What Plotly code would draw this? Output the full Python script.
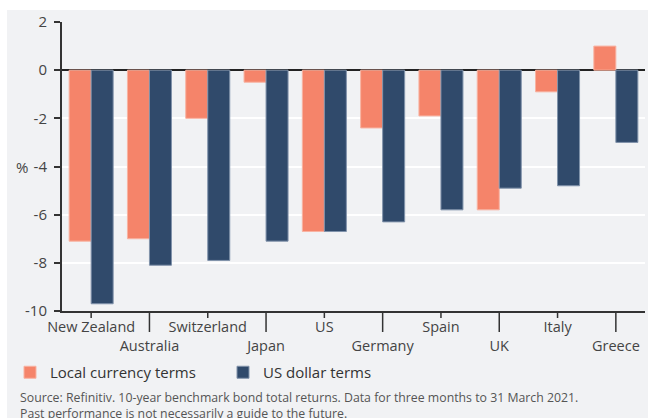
import plotly.graph_objects as go

countries = ["New Zealand", "Australia", "Switzerland", "Japan", "US",
             "Germany", "Spain", "UK", "Italy", "Greece"]
local_ccy = [-7.1, -7.0, -2.0, -0.5, -6.7, -2.4, -1.9, -5.8, -0.9, 1.0]
usd_terms = [-9.7, -8.1, -7.9, -7.1, -6.7, -6.3, -5.8, -4.9, -4.8, -3.0]
y_ticks = [2, 0, -2, -4, -6, -8, -10]

ORANGE = "#F5846A"
NAVY = "#304A6B"
BG = "#F1F2F4"
FONT = "Open Sans"

W, H = 648, 418
ML, MR, MT, MB = 62, 3, 22, 107
PW = W - ML - MR
PH = H - MT - MB
BOTTOM = H - MB


def py(p):
    return (BOTTOM - p) / PH


def px(p):
    return (p - ML) / PW


fig = go.Figure()
fig.add_trace(go.Bar(x=list(range(len(countries))), y=local_ccy, name="Local currency terms",
                     marker=dict(color=ORANGE, line=dict(color="#F8B3A2", width=1))))
fig.add_trace(go.Bar(x=list(range(len(countries))), y=usd_terms, name="US dollar terms",
                     marker=dict(color=NAVY, line=dict(color="#8193AB", width=1))))

ticktext = [c if i % 2 == 0 else "<br>" + c for i, c in enumerate(countries)]

shapes = []
shapes.append(dict(type="rect", xref="paper", yref="paper", layer="below",
                   x0=px(7), x1=px(W + 2), y0=py(H + 2), y1=py(10),
                   fillcolor=BG, line=dict(width=0)))
for i in range(len(countries)):
    end = 332 if i % 2 else 318
    shapes.append(dict(type="line", xref="x", yref="paper", x0=i, x1=i,
                       y0=py(BOTTOM + 1), y1=py(end), line=dict(color="#333333", width=1.5)))

fig.update_layout(
    width=W, height=H,
    margin=dict(l=ML, r=MR, t=MT, b=MB, autoexpand=False),
    paper_bgcolor="white", plot_bgcolor=BG,
    barmode="group", bargap=0.245, bargroupgap=0,
    font=dict(family=FONT, color="#444444"),
    showlegend=True,
    legend=dict(orientation="h", x=px(10), xanchor="left",
                y=py(356), yanchor="top",
                font=dict(size=15, color="#333333"), bgcolor="rgba(0,0,0,0)",
                entrywidth=168, entrywidthmode="pixels",
                traceorder="normal"),
    xaxis=dict(range=[-0.5, len(countries) - 0.5], tickmode="array",
               tickvals=list(range(len(countries))), ticktext=ticktext,
               tickangle=0, automargin=False,
               ticks="outside", ticklen=2, tickwidth=0.01, tickcolor="rgba(0,0,0,0)",
               showline=True, linecolor="#333333", linewidth=2,
               showgrid=False, zeroline=False,
               tickfont=dict(size=14.5, color="#444444")),
    yaxis=dict(range=[-10, 2], tickmode="array", tickvals=y_ticks,
               ticktext=[str(v) for v in y_ticks], automargin=False,
               ticks="outside", ticklen=6, tickwidth=1.5, tickcolor="#333333",
               ticklabelstandoff=4,
               showline=True, linecolor="#333333", linewidth=2,
               showgrid=True, gridcolor="white", gridwidth=2,
               zeroline=True, zerolinecolor="#222222", zerolinewidth=2,
               tickfont=dict(size=15, color="#444444")),
    shapes=shapes,
    annotations=[
        dict(text="%", xref="paper", yref="y", x=px(22), y=-4,
             xanchor="center", yanchor="middle", showarrow=False,
             font=dict(size=15, color="#444444")),
        dict(text="Source: Refinitiv. 10-year benchmark bond total returns. Data for three months to 31 March 2021.<br>"
                  "Past performance is not necessarily a guide to the future.",
             xref="paper", yref="paper", x=px(18), y=py(387),
             xanchor="left", yanchor="top", align="left", showarrow=False,
             font=dict(size=12.3, color="#555555")),
    ],
)

fig.write_html("out.html", config={"displayModeBar": False},
               post_script="document.body.style.margin='0';document.body.style.overflow='hidden';")
